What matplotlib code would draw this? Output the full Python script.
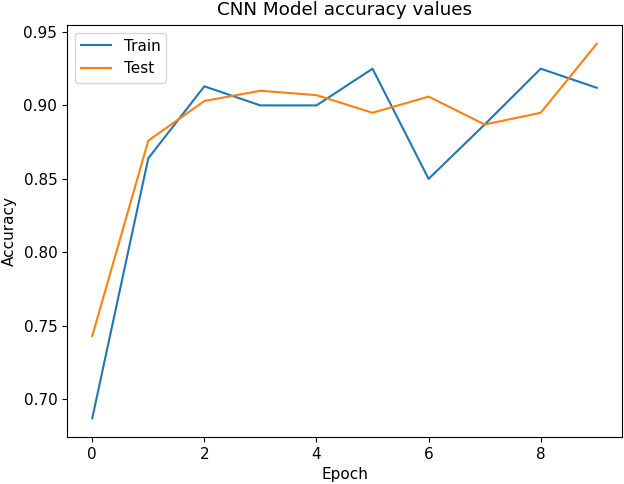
import matplotlib
matplotlib.use("Agg")
import matplotlib.pyplot as plt

epochs = list(range(10))
train_acc = [0.687, 0.864, 0.913, 0.900, 0.900, 0.925, 0.850, 0.887, 0.925, 0.912]
test_acc = [0.743, 0.876, 0.903, 0.910, 0.907, 0.895, 0.906, 0.887, 0.895, 0.942]

plt.rcParams['font.size'] = 11

fig = plt.figure(figsize=(6.24, 4.84), dpi=100)
ax = fig.add_axes([67 / 624, 47 / 484, 555 / 624, 412 / 484])

ax.plot(epochs, train_acc, label='Train')
ax.plot(epochs, test_acc, label='Test')
ax.set_title('CNN Model accuracy values', fontsize=13.2, pad=7.5)
ax.set_xlabel('Epoch')
ax.set_ylabel('Accuracy', labelpad=5)
ax.legend(loc='upper left')

fig.savefig('out.png', dpi=100)
